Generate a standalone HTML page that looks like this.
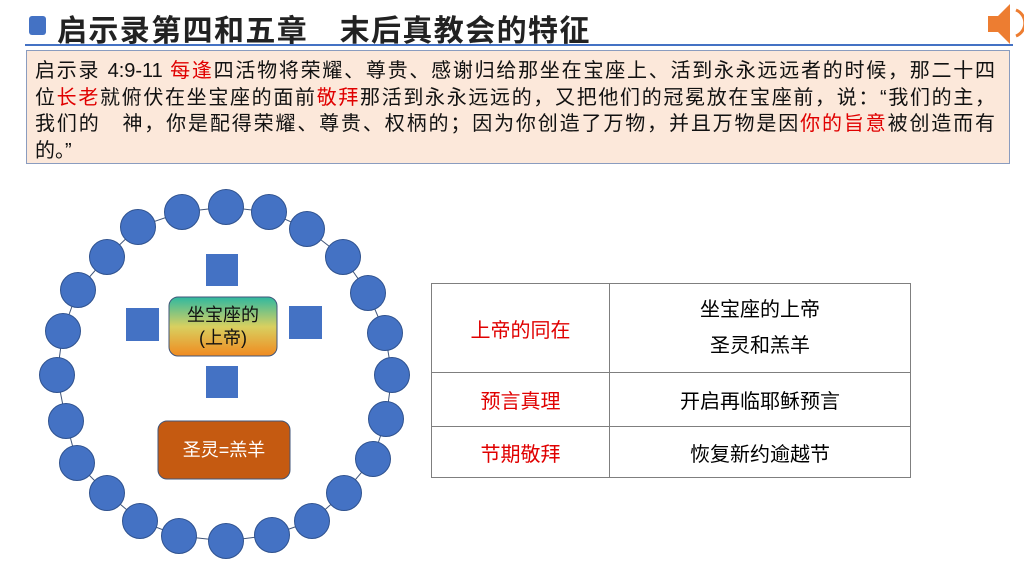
<!DOCTYPE html>
<html><head><meta charset="utf-8"><style>
body{margin:0;width:1024px;height:576px;background:#fff;position:relative;overflow:hidden;font-family:"Liberation Sans","Noto Sans CJK SC",sans-serif;}
.abs{position:absolute}
.r{color:#e00000}
td{border:1px solid #7f7f7f;text-align:center;font-size:20px;padding:0}
.ln{text-align:justify;text-align-last:justify;width:960px;white-space:nowrap;height:26.5px}
</style></head><body>
<div class="abs" style="left:29px;top:16px;width:17px;height:19px;background:#4472c4;border-radius:3px"></div>
<div class="abs" style="left:57px;top:6px;font-size:30px;font-weight:bold;color:#222;letter-spacing:1.4px;white-space:nowrap">启示录第四和五章　末后真教会的特征</div>
<div class="abs" style="left:25px;top:44px;width:988px;height:2px;background:#4472c4"></div>
<svg class="abs" style="left:980px;top:0" width="44" height="50"><path d="M8 16 h10 l12 -12 v40 l-12 -12 h-10 z" fill="#ed7d31"/><path d="M36 10 a14 14 0 0 1 0 26" stroke="#ed7d31" stroke-width="3" fill="none"/></svg>
<div class="abs" style="left:26px;top:50px;width:984px;height:114px;background:#fce8da;border:1px solid #8a9cbf;font-size:20px;line-height:26.5px;color:#111;padding:7px 0 0 8px;box-sizing:border-box">
<div class="ln">启示录 4:9-11 <span class="r">每逢</span>四活物将荣耀、尊贵、感谢归给那坐在宝座上、活到永永远远者的时候，那二十四</div>
<div class="ln">位<span class="r">长老</span>就俯伏在坐宝座的面前<span class="r">敬拜</span>那活到永永远远的，又把他们的冠冕放在宝座前，说：“我们的主，</div>
<div class="ln">我们的　神，你是配得荣耀、尊贵、权柄的；因为你创造了万物，并且万物是因<span class="r">你的旨意</span>被创造而有</div>
<div>的。”</div>
</div>
<svg class="abs" style="left:0;top:0" width="1024" height="576">
<defs><linearGradient id="g" x1="0" y1="0" x2="0" y2="1"><stop offset="0" stop-color="#2fb8a0"/><stop offset="0.5" stop-color="#d8d060"/><stop offset="1" stop-color="#f08a20"/></linearGradient></defs>
<polygon points="226,207 269,212 307,229 343,257 368,293 385,333 392,375 386,419 373,459 344,493 312,521 272,535 226,541 179,536 140,521 107,493 77,463 66,421 57,375 63,331 78,290 107,257 138,227 182,212" fill="none" stroke="#41567a" stroke-width="1"/>
<g fill="#4472c4" stroke="#2f528f" stroke-width="1">
<circle cx="226" cy="207" r="17.5"/><circle cx="269" cy="212" r="17.5"/><circle cx="307" cy="229" r="17.5"/><circle cx="343" cy="257" r="17.5"/><circle cx="368" cy="293" r="17.5"/><circle cx="385" cy="333" r="17.5"/><circle cx="392" cy="375" r="17.5"/><circle cx="386" cy="419" r="17.5"/><circle cx="373" cy="459" r="17.5"/><circle cx="344" cy="493" r="17.5"/><circle cx="312" cy="521" r="17.5"/><circle cx="272" cy="535" r="17.5"/><circle cx="226" cy="541" r="17.5"/><circle cx="179" cy="536" r="17.5"/><circle cx="140" cy="521" r="17.5"/><circle cx="107" cy="493" r="17.5"/><circle cx="77" cy="463" r="17.5"/><circle cx="66" cy="421" r="17.5"/><circle cx="57" cy="375" r="17.5"/><circle cx="63" cy="331" r="17.5"/><circle cx="78" cy="290" r="17.5"/><circle cx="107" cy="257" r="17.5"/><circle cx="138" cy="227" r="17.5"/><circle cx="182" cy="212" r="17.5"/>
</g>
<g fill="#4472c4">
<rect x="206" y="254" width="32" height="32"/><rect x="126" y="308" width="33" height="33"/><rect x="289" y="306" width="33" height="33"/><rect x="206" y="366" width="32" height="32"/>
</g>
<rect x="169" y="297" width="108" height="59" rx="9" fill="url(#g)" stroke="#41567a" stroke-width="1"/>
<text x="223" y="321" font-size="18" text-anchor="middle" fill="#111" font-family="Liberation Sans,Noto Sans CJK SC,sans-serif">坐宝座的</text>
<text x="223" y="344" font-size="18" text-anchor="middle" fill="#111" font-family="Liberation Sans,Noto Sans CJK SC,sans-serif">(上帝)</text>
<rect x="158" y="421" width="132" height="58" rx="9" fill="#c55a11" stroke="#41567a" stroke-width="1"/>
<text x="224" y="456" font-size="18" text-anchor="middle" fill="#fff" font-family="Liberation Sans,Noto Sans CJK SC,sans-serif">圣灵=羔羊</text>
</svg>
<table class="abs" style="left:431px;top:283px;width:480px;height:194px;border-collapse:collapse">
<tr style="height:89px"><td class="r" style="width:177px">上帝的同在</td><td style="line-height:36px">坐宝座的上帝<br>圣灵和羔羊</td></tr>
<tr style="height:54px"><td class="r">预言真理</td><td>开启再临耶稣预言</td></tr>
<tr style="height:51px"><td class="r">节期敬拜</td><td>恢复新约逾越节</td></tr>
</table>
</body></html>
